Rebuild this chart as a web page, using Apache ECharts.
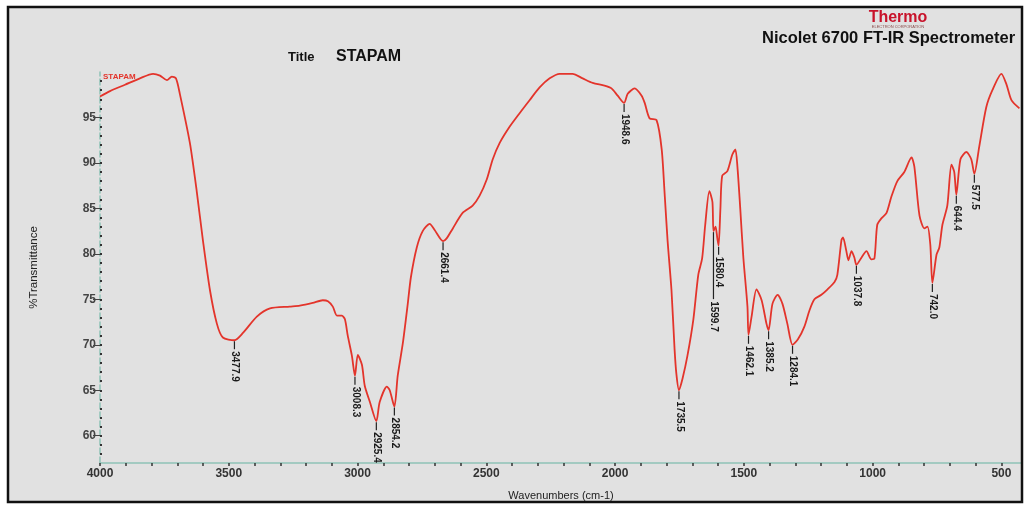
<!DOCTYPE html>
<html>
<head>
<meta charset="utf-8">
<script src="https://cdn.jsdelivr.net/npm/echarts@6/dist/echarts.min.js"></script>
<style>
html,body{margin:0;padding:0;background:#fff;}
#chart{width:1027px;height:506px;}
</style>
</head>
<body>
<div id="chart"></div>
<script>
// ---- data ----
const wavenumbers = [4000,3961,3903,3845,3794,3767,3740,3721,3705,3690,3651,3624,3600,3573,3546,3523,3478,3445,3391,3340,3263,3224,3174,3135,3115,3096,3080,3061,3049,3038,3022,3010,2999,2983,2972,2952,2927,2914,2886,2875,2857,2844,2824,2805,2793,2770,2747,2720,2700,2668,2654,2630,2592,2553,2526,2498,2475,2448,2409,2370,2332,2293,2254,2215,2165,2126,2087,2041,2014,1990,1965,1951,1924,1897,1885,1866,1839,1819,1808,1796,1781,1769,1762,1752,1738,1719,1696,1677,1662,1650,1634,1622,1618,1610,1603,1598,1591,1584,1564,1545,1533,1525,1514,1502,1486,1482,1470,1451,1431,1412,1404,1389,1369,1350,1331,1311,1290,1265,1245,1226,1199,1175,1148,1137,1121,1115,1102,1094,1082,1071,1063,1043,1024,1005,993,982,966,946,927,904,877,849,838,818,799,787,776,768,752,741,729,710,694,683,675,659,636,617,605,586,559,535,500,481,461,430];
const transmittance = [97.3,97.9,98.6,99.3,99.8,99.6,99.1,99.5,99.3,97.6,92.2,86.8,81.4,76.0,72.3,70.8,70.5,71.3,73.1,74.0,74.2,74.3,74.6,74.9,74.8,74.2,73.2,73.2,72.8,71.0,68.8,66.6,68.9,67.8,65.5,63.7,61.6,63.7,65.4,65.0,63.2,66.6,70.2,74.5,77.4,80.7,82.5,83.3,82.6,81.4,81.7,82.8,84.5,85.3,86.4,88.2,90.4,92.2,94.0,95.5,96.9,98.3,99.3,99.8,99.8,99.3,98.8,98.5,98.2,97.4,96.6,97.6,98.2,97.4,96.6,94.9,94.7,91.5,86.8,81.4,76.0,69.5,66.8,65.0,66.3,68.8,72.8,77.7,79.5,83.2,86.9,85.7,82.5,83.0,81.7,80.9,85.0,88.6,89.1,90.9,91.5,89.6,85.0,79.6,74.2,71.1,73.1,76.1,74.9,72.3,71.6,74.5,75.5,74.5,72.3,70.0,70.6,72.0,73.8,75.0,75.5,76.1,76.9,77.7,81.5,81.8,80.3,79.3,80.3,79.6,78.8,79.6,80.3,79.4,79.5,83.2,83.9,84.5,86.3,88.0,89.0,90.6,89.6,84.2,82.8,83.0,81.0,76.8,79.9,80.7,83.2,85.3,89.8,89.0,86.5,90.4,91.2,90.4,88.8,91.8,96.1,98.0,99.8,98.7,96.9,96.0];

// peak annotations: position on the curve and printed label
const peakPositions = [3478,3010,2927,2857,2668,1965,1752,1618,1598,1482,1404,1311,1063,768,675,605];
const peakLabels = ['3477.9','3008.3','2925.4','2854.2','2661.4','1948.6','1735.5','1599.7','1580.4','1462.1','1385.2','1284.1','1037.8','742.0','644.4','577.5'];

const xLabelValues = [500,1000,1500,2000,2500,3000,3500,4000];
const xTickValues = [500,600,700,800,900,1000,1100,1200,1300,1400,1500,1600,1700,1800,1900,2000,2100,2200,2300,2400,2500,2600,2700,2800,2900,3000,3100,3200,3300,3400,3500,3600,3700,3800,3900,4000];
const yLabelValues = [60,65,70,75,80,85,90,95];
const yMinorValues = [58,59,60,61,62,63,64,65,66,67,68,69,70,71,72,73,74,75,76,77,78,79,80,81,82,83,84,85,86,87,88,89,90,91,92,93,94,95,96,97,98,99];

// ---- chart ----
const spectrum = wavenumbers.map((w, i) => [w, transmittance[i]]);
function curveAt(w) {
  return transmittance[wavenumbers.indexOf(w)];
}
const peaks = peakPositions.map((w, i) => [w, curveAt(w), peakLabels[i]]);
const leaderLen = {'1599.7': 68};

const chart = echarts.init(document.getElementById('chart'), null, {renderer: 'canvas'});
const FONT = 'Liberation Sans, Arial, sans-serif';
const axisColor = '#8fc2b6';

chart.setOption({
  backgroundColor: '#ffffff',
  animation: false,
  grid: {left: 100, right: 5, top: 72, bottom: 38, containLabel: false},
  xAxis: [{
    type: 'value', inverse: true, min: 420, max: 4000,
    name: 'Wavenumbers (cm-1)', nameLocation: 'middle', nameGap: 27,
    nameTextStyle: {fontFamily: FONT, fontSize: 11, color: '#222'},
    axisLine: {show: true, onZero: false, lineStyle: {color: axisColor, width: 1.5}},
    axisTick: {show: true, customValues: xTickValues, length: 3, inside: false, lineStyle: {color: '#333', width: 1.5}},
    axisLabel: {customValues: xLabelValues, formatter: v => String(v), fontFamily: FONT, fontSize: 12, fontWeight: 'bold', color: '#333', margin: 5},
    splitLine: {show: false}
  }],
  yAxis: [{
    type: 'value', min: 57, max: 100,
    name: '%Transmittance', nameLocation: 'middle', nameGap: 60, nameRotate: 90,
    nameTextStyle: {fontFamily: FONT, fontSize: 11.5, color: '#222'},
    axisLine: {show: true, onZero: false, lineStyle: {color: axisColor, width: 1.5, type: 'dashed'}},
    axisTick: {show: true, customValues: yLabelValues, length: 7, lineStyle: {color: '#444', width: 1}},
    axisLabel: {customValues: yLabelValues, formatter: v => String(v), fontFamily: FONT, fontSize: 12, fontWeight: 'bold', color: '#444', margin: 4},
    splitLine: {show: false}
  }, {
    type: 'value', min: 57, max: 100, position: 'left',
    axisLine: {show: false},
    axisTick: {show: true, customValues: yMinorValues, length: 2, inside: true, lineStyle: {color: '#333', width: 2}},
    axisLabel: {show: false},
    splitLine: {show: false}
  }],
  series: [{
    type: 'line', data: spectrum, showSymbol: false, smooth: 0.25,
    lineStyle: {color: '#e3342b', width: 1.8}, silent: true, z: 3
  }, {
    type: 'custom', data: peaks, silent: true, z: 4,
    renderItem: function (params, api) {
      const p = api.coord([api.value(0), api.value(1)]);
      const txt = peaks[params.dataIndex][2];
      const len = leaderLen[txt] || 9;
      return {
        type: 'group',
        children: [{
          type: 'line',
          shape: {x1: p[0], y1: p[1] + 1, x2: p[0], y2: p[1] + len},
          style: {stroke: '#222', lineWidth: 1.2}
        }, {
          type: 'text',
          x: p[0] + 0.5, y: p[1] + len + 2,
          rotation: -Math.PI / 2,
          style: {text: txt, fill: '#1a1a1a', font: 'bold 10px ' + FONT, align: 'left', verticalAlign: 'middle'}
        }]
      };
    }
  }],
  graphic: [
    {type: 'rect', z: -10, shape: {x: 8, y: 7, width: 1014, height: 495}, style: {fill: '#e1e1e1'}},
    {type: 'rect', z: 100, shape: {x: 8, y: 7, width: 1014, height: 495}, style: {fill: 'none', stroke: '#111', lineWidth: 2.5}},
    {type: 'text', z: 10, x: 898, y: 18, style: {text: 'Thermo', fill: '#c8122a', font: 'bold 16px ' + FONT, align: 'center', verticalAlign: 'middle'}},
    {type: 'text', z: 10, x: 898, y: 27, style: {text: 'ELECTRON CORPORATION', fill: '#8a4a4a', font: '4px ' + FONT, align: 'center', verticalAlign: 'middle'}},
    {type: 'text', z: 10, x: 762, y: 38, style: {text: 'Nicolet 6700 FT-IR Spectrometer', fill: '#111', font: 'bold 16.5px ' + FONT, align: 'left', verticalAlign: 'middle'}},
    {type: 'text', z: 10, x: 288, y: 57, style: {text: 'Title', fill: '#111', font: 'bold 13px ' + FONT, align: 'left', verticalAlign: 'middle'}},
    {type: 'text', z: 10, x: 336, y: 57, style: {text: 'STAPAM', fill: '#111', font: 'bold 16px ' + FONT, align: 'left', verticalAlign: 'middle'}},
    {type: 'text', z: 10, x: 103, y: 77, style: {text: 'STAPAM', fill: '#e3342b', font: 'bold 8px ' + FONT, align: 'left', verticalAlign: 'middle'}}
  ]
});
</script>
</body>
</html>
